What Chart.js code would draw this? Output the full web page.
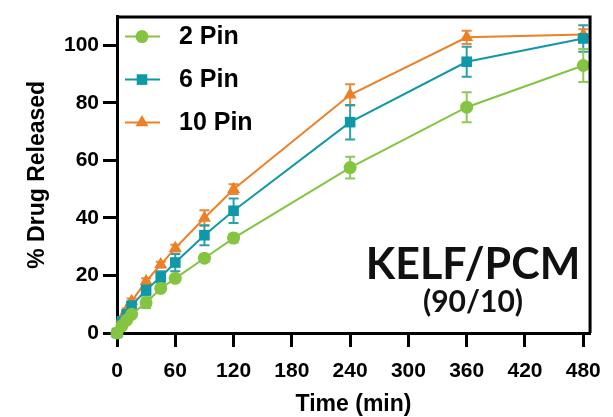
<!DOCTYPE html>
<html>
<head>
<meta charset="utf-8">
<script src="https://cdn.jsdelivr.net/npm/chart.js@4.4.1/dist/chart.umd.min.js"></script>
<style>
  html, body { margin: 0; padding: 0; background: #fff; }
  #wrap { width: 613px; height: 417px; position: relative; }
</style>
</head>
<body>
<div id="wrap"><canvas id="c" width="613" height="417"></canvas></div>
<script>
// ---- data ----
const timeMin = [0, 5, 10, 15, 30, 45, 60, 90, 120, 240, 360, 480];
const pin2    = [0, 2.5, 4.5, 6.5, 10.5, 15.5, 19, 26, 33, 57.5, 78.5, 93];
const pin2Err = [0, 0.5, 0.5, 1, 1.8, 1, 1, 1.2, 1.5, 3.8, 5.2, 5.7];
const pin6    = [0, 4, 6.5, 9.5, 15, 19.5, 24.5, 34, 42.5, 73.3, 94.3, 102.4];
const pin6Err = [0, 0.5, 1, 1, 2, 2, 3, 3.5, 4.3, 6, 5.2, 4.6];
const pin10   = [0, 5, 8, 11, 18, 23.8, 29.5, 40, 50, 82.8, 102.8, 103.8];
const pin10Err= [0, 0.5, 0.5, 1, 1, 1, 1.2, 2.7, 1.7, 3.7, 2.3, 1.8];
const seriesNames = ['2 Pin', '6 Pin', '10 Pin'];
const xTickValues = [0, 60, 120, 180, 240, 300, 360, 420, 480];
const yTickValues = [0, 20, 40, 60, 80, 100];
const annotationMain = 'KELF/PCM';
const annotationSub = '(90/10)';

const colors = ['#84c441', '#0e98a8', '#ec8026'];
const errColors = ['#8ec95a', '#2a9fae', '#ec883a'];
const styles = ['circle', 'rect', 'triangle'];
const radii = [6.5, 7.5, 7.5];
const values = [pin2, pin6, pin10];
const errs = [pin2Err, pin6Err, pin10Err];

const TICK_FONT = { family: 'Liberation Sans', weight: 'bold', size: 21 };
const TITLE_FONT = { family: 'Liberation Sans', weight: 'bold', size: 23, lineHeight: 1 };

const datasets = values.map((vals, i) => ({
  label: seriesNames[i],
  data: timeMin.map((t, j) => ({ x: t, y: vals[j] })),
  borderColor: colors[i],
  backgroundColor: colors[i],
  borderWidth: 2,
  pointStyle: styles[i],
  pointRadius: radii[i],
  pointHoverRadius: radii[i],
  pointBorderWidth: 0,
  tension: 0,
  clip: false
}));

const errorBarPlugin = {
  id: 'errorBars',
  beforeDatasetsDraw(chart) {
    const ctx = chart.ctx;
    const xs = chart.scales.x, ys = chart.scales.y;
    ctx.save();
    for (let i = values.length - 1; i >= 0; i--) {
      ctx.strokeStyle = errColors[i];
      ctx.lineWidth = 2;
      timeMin.forEach((t, j) => {
        const e = errs[i][j];
        if (!e) return;
        const x = xs.getPixelForValue(t);
        const y1 = ys.getPixelForValue(values[i][j] + e);
        const y2 = ys.getPixelForValue(values[i][j] - e);
        ctx.beginPath();
        ctx.moveTo(x, y1); ctx.lineTo(x, y2);
        ctx.moveTo(x - 5, y1); ctx.lineTo(x + 5, y1);
        ctx.moveTo(x - 5, y2); ctx.lineTo(x + 5, y2);
        ctx.stroke();
      });
    }
    ctx.restore();
  }
};

function drawMarker(ctx, style, x, y, r, color) {
  ctx.fillStyle = color;
  ctx.beginPath();
  if (style === 'circle') {
    ctx.arc(x, y, r, 0, Math.PI * 2);
  } else if (style === 'rect') {
    const s = r * Math.SQRT2 / 2;
    ctx.rect(x - s, y - s, 2 * s, 2 * s);
  } else {
    ctx.moveTo(x, y - r);
    ctx.lineTo(x + r * 0.866, y + r * 0.5);
    ctx.lineTo(x - r * 0.866, y + r * 0.5);
    ctx.closePath();
  }
  ctx.fill();
}

const framePlugin = {
  id: 'frameLegendAnno',
  afterDraw(chart) {
    const ctx = chart.ctx;
    const a = chart.chartArea;
    ctx.save();
    // top and right frame
    ctx.strokeStyle = '#000';
    ctx.lineWidth = 3;
    ctx.beginPath();
    ctx.moveTo(a.left, a.top + 0.5);
    ctx.lineTo(a.right, a.top + 0.5);
    ctx.lineTo(a.right, a.bottom);
    ctx.stroke();

    // legend
    const legX = a.left + 8, legY = a.top + 20, gap = 43;
    seriesNames.forEach((name, i) => {
      const y = legY + i * gap;
      ctx.strokeStyle = colors[i];
      ctx.lineWidth = 2;
      ctx.beginPath();
      ctx.moveTo(legX, y); ctx.lineTo(legX + 35, y);
      ctx.stroke();
      drawMarker(ctx, styles[i], legX + 17, y, radii[i], colors[i]);
      ctx.fillStyle = '#000';
      ctx.font = 'bold 25px "Liberation Sans"';
      ctx.textAlign = 'left';
      ctx.textBaseline = 'middle';
      ctx.fillText(name, legX + 54, y + 1);
    });

    // annotation
    ctx.fillStyle = '#111';
    ctx.textAlign = 'center';
    ctx.textBaseline = 'middle';
    ctx.font = 'bold 43px Lato';
    ctx.fillText(annotationMain, 473, 265);
    ctx.font = 'bold 30px Lato';
    ctx.fillText(annotationSub, 473, 302);
    ctx.restore();
  }
};

new Chart(document.getElementById('c'), {
  type: 'line',
  data: { datasets },
  options: {
    responsive: false,
    animation: false,
    layout: { padding: { top: 12, right: 15, left: 0, bottom: 0 } },
    plugins: { legend: { display: false }, tooltip: { enabled: false } },
    scales: {
      x: {
        type: 'linear',
        min: 0,
        max: 487,
        afterBuildTicks(s) { s.ticks = xTickValues.map(v => ({ value: v })); },
        afterFit(s) { s.height = 84; },
        grid: { drawOnChartArea: false, drawTicks: true, tickLength: 14, tickWidth: 3, tickColor: '#000', color: '#000' },
        border: { display: true, color: '#000', width: 3 },
        ticks: { color: '#000', font: TICK_FONT, padding: 12, maxRotation: 0 },
        title: { display: true, text: 'Time (min)', color: '#000', font: TITLE_FONT, padding: { top: 0, bottom: 1 } }
      },
      y: {
        type: 'linear',
        min: 0,
        max: 110,
        afterBuildTicks(s) { s.ticks = yTickValues.map(v => ({ value: v })); },
        afterFit(s) { s.width = 117; },
        grid: { drawOnChartArea: false, drawTicks: true, tickLength: 14, tickWidth: 3, tickColor: '#000', color: '#000' },
        border: { display: true, color: '#000', width: 3 },
        ticks: { color: '#000', font: TICK_FONT, padding: 4 },
        title: { display: true, text: '% Drug Released', color: '#000', font: TITLE_FONT, padding: { top: 26, bottom: 0 } }
      }
    }
  },
  plugins: [errorBarPlugin, framePlugin]
});
</script>
</body>
</html>
